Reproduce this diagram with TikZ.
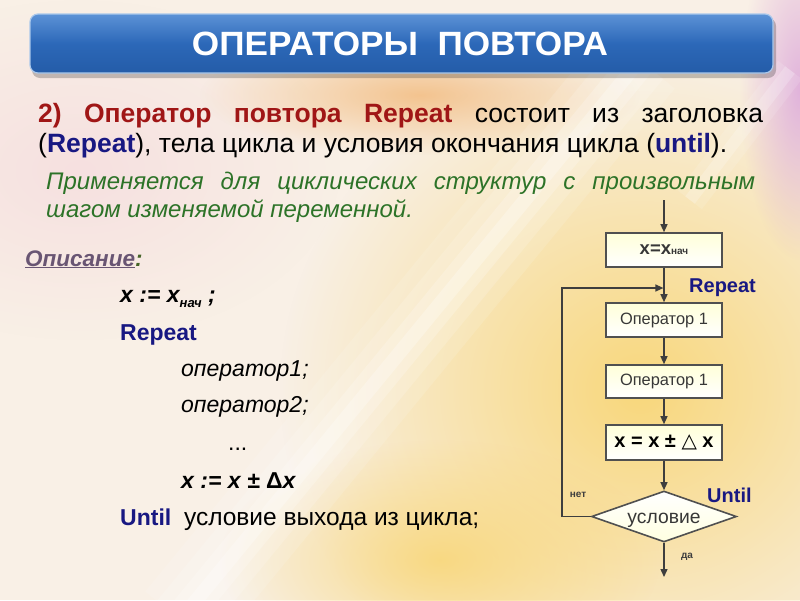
\documentclass[tikz,border=0pt]{standalone}
\usepackage{fontspec}
\setmainfont{Liberation Sans}
\newfontfamily\dejavu{DejaVu Sans}
\usepackage{graphicx}
\usetikzlibrary{arrows.meta,fadings,shapes.geometric}
\tikzfading[name=softglow, inner color=transparent!0, outer color=transparent!100]
\definecolor{bgbase}{RGB}{249,240,230}
\definecolor{glowyellow}{RGB}{248,214,118}
\definecolor{gloworange}{RGB}{242,188,128}
\definecolor{glowpink}{RGB}{246,224,224}
\definecolor{glowviolet}{RGB}{222,172,218}
\definecolor{bannertop}{RGB}{92,146,214}
\definecolor{bannermid}{RGB}{44,104,184}
\definecolor{bannerbot}{RGB}{36,92,168}
\definecolor{bannerrim}{RGB}{170,200,235}
\definecolor{darkred}{RGB}{160,22,22}
\definecolor{navy}{RGB}{24,24,130}
\definecolor{textgreen}{RGB}{45,115,40}
\definecolor{descr}{RGB}{105,85,115}
\definecolor{colongreen}{RGB}{70,100,40}
\definecolor{lineg}{RGB}{62,62,62}
\definecolor{boxline}{RGB}{80,80,80}
\definecolor{boxtext}{RGB}{55,55,55}
\tikzset{
  fbox/.style={draw=boxline, line width=1.6pt, top color=white!85!yellow, bottom color=white,
    minimum width=116pt, minimum height=34pt, inner sep=0pt, text=boxtext},
  flow/.style={draw=lineg, line width=1.3pt},
  arr/.style={flow, -{Triangle[length=8pt,width=7pt]}},
  lbl/.style={inner sep=0pt, anchor=base west},
  flowlbl/.style={inner sep=0pt, anchor=base west, text=navy, font=\bfseries\fontsize{20}{20}\selectfont},
  tiny/.style={inner sep=0pt, text=lineg, font=\bfseries\fontsize{10}{10}\selectfont},
}
\begin{document}
\begin{tikzpicture}[x=1pt,y=-1pt]
\useasboundingbox (0,0) rectangle (800,600);
% ---------- background ----------
\fill[bgbase] (0,0) rectangle (800,600);
\fill[glowpink, path fading=softglow] (80,170) ellipse (260 and 170);
\fill[glowyellow, path fading=softglow, opacity=0.95] (640,390) ellipse (360 and 340);
\fill[glowyellow, path fading=softglow, opacity=0.85] (440,560) ellipse (220 and 120);
\fill[gloworange, path fading=softglow, opacity=0.85] (420,95) ellipse (220 and 60);
\fill[glowviolet, path fading=softglow, opacity=0.9] (800,90) ellipse (60 and 170);
\foreach \w/\o in {90/0.12,60/0.15,34/0.2,14/0.25}
  \draw[white, line width=\w pt, opacity=\o] (640,60) -- (180,620);
\foreach \w/\o in {30/0.12,12/0.2}
  \draw[white, line width=\w pt, opacity=\o] (790,70) -- (690,200);
% ---------- banner ----------
\fill[black, opacity=0.22, rounded corners=8pt] (32,18) rectangle (776,78);
\shade[rounded corners=8pt, top color=bannertop, bottom color=bannerbot, middle color=bannermid,
  draw=bannerrim, line width=1.2pt] (30,14) rectangle (773,73);
\node[anchor=base, inner sep=0pt, text=white] (title) at (400,55)
  {\resizebox{416pt}{23.5pt}{\bfseries ОПЕРАТОРЫ\ \ ПОВТОРА}};
% ---------- heading text ----------
\node[lbl] (line1) at (38,122) {\fontsize{26.5}{30}\selectfont\makebox[725pt][s]{\textcolor{darkred}{\bfseries 2) Оператор повтора Repeat} состоит из заголовка}};
\node[lbl] (line2) at (38,152) {\fontsize{26.5}{30}\selectfont (\textcolor{navy}{\bfseries Repeat}), тела цикла и условия окончания цикла (\textcolor{navy}{\bfseries until}).};
\node[lbl, text=textgreen] (green1) at (46,189) {\fontsize{24}{28}\selectfont\itshape\makebox[709pt][s]{Применяется для циклических структур с произвольным}};
\node[lbl, text=textgreen] (green2) at (46,217) {\fontsize{24}{28}\selectfont\itshape шагом изменяемой переменной.};
% ---------- description ----------
\node[lbl] (descr) at (25,266) {\fontsize{22.5}{25}\selectfont\bfseries\itshape\textcolor{descr}{\underline{Описание}}\textcolor{colongreen}{:}};
\node[lbl] (c1) at (120,302) {\fontsize{23}{26}\selectfont\bfseries\itshape x := x\raisebox{-5pt}{\fontsize{13}{13}\selectfont нач} ;};
\node[lbl, text=navy] (c2) at (120,340) {\fontsize{23}{26}\selectfont\bfseries Repeat};
\node[lbl] (c3) at (181,376) {\fontsize{23}{26}\selectfont\itshape оператор1;};
\node[lbl] (c4) at (181,412) {\fontsize{23}{26}\selectfont\itshape оператор2;};
\node[lbl] (c5) at (228,450) {\fontsize{23}{26}\selectfont ...};
\node[lbl] (c6) at (181,488) {\fontsize{23}{26}\selectfont\bfseries\itshape x := x ± {\upshape Δ}x};
\node[lbl] (c7) at (120,525) {\fontsize{23}{26}\selectfont\textcolor{navy}{\bfseries Until}\ \ {\fontsize{24.5}{26}\selectfont условие выхода из цикла;}};
% ---------- flowchart ----------
\coordinate (start) at (664,200);
\node[fbox] (b1) at (664,250) {\bfseries\fontsize{18.5}{18}\selectfont x=x\fontsize{10}{10}\selectfont нач};
\node[fbox] (b2) at (664,320) {\fontsize{16.4}{17}\selectfont Оператор 1};
\node[fbox, minimum height=33pt] (b3) at (664,381.5) {\fontsize{16.4}{17}\selectfont Оператор 1};
\node[fbox, minimum height=35pt, text=black] (b4) at (664,442.5) {\bfseries\fontsize{20}{20}\selectfont x = x ± {\dejavu\mdseries △} x};
\node[diamond, aspect=2.84, minimum width=145pt, minimum height=51pt, inner sep=0pt,
  draw=boxline, line width=1.6pt, top color=white, bottom color=white!88!yellow, text=boxtext] (cond) at (664,516.5) {};
\node[inner sep=0pt, anchor=base, text=boxtext, font=\fontsize{19.3}{20}\selectfont] (condtext) at (664,523) {условие};
\coordinate (finish) at (664,577);
\coordinate (loopjoin) at (664,288);
\coordinate (loopleft) at (562,288);
\draw[arr] (start) -- (b1.north);
\draw[arr] (b1.south) -- (b2.north);
\draw[arr] (b2.south) -- (b3.north);
\draw[arr] (b3.south) -- (b4.north);
\draw[arr] (b4.south) -- (cond.north);
\draw[arr] (cond.south) -- (finish);
\draw[arr, shorten >=0.6pt] (cond.west) -- (cond.west -| loopleft) -- (loopleft) -- (loopjoin);
\node[flowlbl] (lrep) at (689,292) {Repeat};
\node[flowlbl] (luntil) at (707,502) {Until};
\node[tiny] (lno) at (578,495) {нет};
\node[tiny] (lyes) at (687,557) {да};
\end{tikzpicture}
\end{document}
